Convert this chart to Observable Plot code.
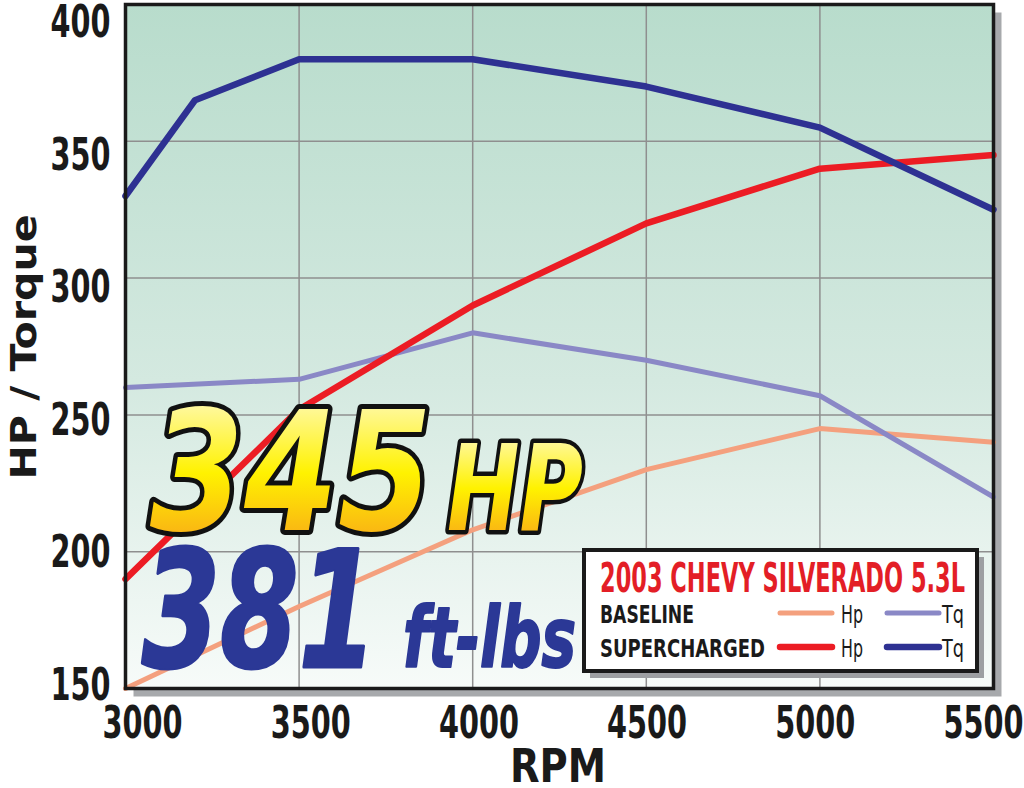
<!DOCTYPE html>
<html><head><meta charset="utf-8">
<script src="https://cdn.jsdelivr.net/npm/d3@7"></script>
<script src="https://cdn.jsdelivr.net/npm/@observablehq/plot@0.6"></script>
<style>body{margin:0;background:#fff}</style>
</head><body><div id="chart"></div>
<script>
// ---- data ----
const rpmBase = [3000, 3500, 4000, 4500, 5000, 5500];
const baselineHp = [150, 180, 208, 230, 245, 240];
const baselineTq = [260, 263, 280, 270, 257, 220];
const rpmSuperHp = [3000, 3500, 4000, 4500, 5000, 5500];
const superchargedHp = [190, 252, 290, 320, 340, 345];
const rpmSuperTq = [3000, 3200, 3500, 4000, 4500, 5000, 5500];
const superchargedTq = [330, 365, 380, 380, 370, 355, 325];
const xTicks = [3000, 3500, 4000, 4500, 5000, 5500];
const yTicks = [150, 200, 250, 300, 350, 400];
const seriesNames = ["Baseline Hp", "Baseline Tq", "Supercharged Hp", "Supercharged Tq"];
const seriesColors = ["#f4a07e", "#8a88c6", "#ec1c24", "#2e3192"];
const seriesWidths = [5, 5, 6.5, 6.5];
const legendTitle = "2003 CHEVY SILVERADO 5.3L";
const legendRows = ["BASELINE", "SUPERCHARGED"];
const legendKeys = ["Hp", "Tq"];
const headlineHp = ["345", "HP"];
const headlineTq = ["381", "ft-lbs"];

const mk = (xs, ys, s) => xs.map((x, i) => ({rpm: x, value: ys[i], series: s}));
const lines = [
  mk(rpmBase, baselineHp, seriesNames[0]),
  mk(rpmBase, baselineTq, seriesNames[1]),
  mk(rpmSuperHp, superchargedHp, seriesNames[2]),
  mk(rpmSuperTq, superchargedTq, seriesNames[3])
];

const FONT = "'DejaVu Sans Condensed', 'DejaVu Sans', sans-serif";

const plot = Plot.plot({
  width: 1024, height: 788,
  marginLeft: 125, marginRight: 31, marginTop: 4, marginBottom: 100,
  style: {fontFamily: FONT, background: "white", overflow: "visible"},
  x: {domain: [3000, 5500]},
  y: {domain: [150, 400]},
  marks: [
    Plot.frame({fill: "#a7a9ac", dx: 8, dy: 8}),
    Plot.frame({fill: "url(#bgGrad)"}),
    Plot.gridX([3500, 4000, 4500, 5000], {stroke: "#8f8f8f", strokeOpacity: 1, strokeWidth: 1.5}),
    Plot.gridY([200, 250, 300, 350], {stroke: "#8f8f8f", strokeOpacity: 1, strokeWidth: 1.5}),
    ...lines.map((d, i) => Plot.line(d, {x: "rpm", y: "value", stroke: seriesColors[i], strokeWidth: seriesWidths[i], strokeLinejoin: "round"})),
    Plot.axisY(yTicks, {tickSize: 0, tickPadding: 15, fontSize: 44, fontWeight: "bold", label: null, fill: "#1a1a1a", tickFormat: d => String(d)}),
    Plot.axisX(xTicks, {tickSize: 0, tickPadding: 18, fontSize: 44, fontWeight: "bold", label: null, fill: "#1a1a1a", tickFormat: d => String(d)}),
    Plot.frame({stroke: "#1a1a1a", strokeWidth: 3.5})
  ]
});
document.getElementById("chart").appendChild(plot);

const svg = d3.select(plot);
const defs = svg.insert("defs", ":first-child");
const bg = defs.append("linearGradient").attr("id", "bgGrad").attr("x1", 0).attr("y1", 0).attr("x2", 0).attr("y2", 1);
bg.append("stop").attr("offset", "0%").attr("stop-color", "#b8dccc");
bg.append("stop").attr("offset", "55%").attr("stop-color", "#d4e9e0");
bg.append("stop").attr("offset", "100%").attr("stop-color", "#f7fbf9");
const yel = defs.append("linearGradient").attr("id", "yel").attr("x1", 0).attr("y1", 0).attr("x2", 0).attr("y2", 1);
yel.append("stop").attr("offset", "0%").attr("stop-color", "#fffbe0");
yel.append("stop").attr("offset", "50%").attr("stop-color", "#fff200");
yel.append("stop").attr("offset", "100%").attr("stop-color", "#f7931e");

// condense tick labels and nudge them as in the reference layout
const sx = plot.scale("x"), sy = plot.scale("y");
svg.selectAll("g[aria-label='y-axis tick label'] text").each(function() {
  const t = d3.select(this);
  t.attr("textLength", t.text().length * 20).attr("lengthAdjust", "spacingAndGlyphs");
  const v = +t.text();
  const target = 21 + (400 - v) / 50 * 132.6;
  t.attr("dy", null).attr("y", target - sy.apply(v)).attr("dominant-baseline", "central");
});
svg.selectAll("g[aria-label='x-axis tick label'] text").each(function() {
  const t = d3.select(this);
  t.attr("textLength", t.text().length * 20).attr("lengthAdjust", "spacingAndGlyphs");
  const v = +t.text();
  const target = 142 + (v - 3000) / 500 * 168.2;
  t.attr("x", target - sx.apply(v));
});

function txt(x, y, s, o) {
  const t = svg.append("text").attr("x", x).attr("y", y).text(s)
    .attr("font-family", FONT).attr("font-size", o.size).attr("font-weight", o.weight || "bold")
    .attr("font-style", o.style || "normal").attr("fill", o.fill || "#1a1a1a")
    .attr("text-anchor", o.anchor || "start");
  if (o.len) t.attr("textLength", o.len).attr("lengthAdjust", "spacingAndGlyphs");
  if (o.stroke) t.attr("stroke", o.stroke).attr("stroke-width", o.sw).attr("stroke-linejoin", "round").attr("paint-order", "stroke fill");
  if (o.transform) t.attr("transform", o.transform);
  return t;
}

// axis titles
txt(558, 782, "RPM", {size: 46, len: 96, anchor: "middle"});
txt(0, 0, "HP / Torque", {size: 36, len: 265, anchor: "middle", transform: "translate(36,347) rotate(-90)"});

// headline callouts
txt(150, 530, headlineHp[0], {size: 165, len: 282, style: "italic", fill: "url(#yel)", stroke: "#111", sw: 10});
txt(447, 530, headlineHp[1], {size: 120, len: 136, style: "italic", fill: "url(#yel)", stroke: "#111", sw: 9});
txt(142, 667, headlineTq[0], {size: 163, len: 235, style: "italic", fill: "#2b3896", stroke: "#2b3896", sw: 3});
txt(403, 667, headlineTq[1], {size: 84, len: 173, style: "italic", fill: "#2b3896", stroke: "#2b3896", sw: 2});

// legend box
svg.append("rect").attr("x", 590).attr("y", 557).attr("width", 394).attr("height", 121).attr("fill", "#9d9fa2");
svg.append("rect").attr("x", 584).attr("y", 550).attr("width", 393).attr("height", 121).attr("fill", "white").attr("stroke", "#1a1a1a").attr("stroke-width", 4);
txt(600, 592, legendTitle, {size: 40, len: 365, fill: "#e31e26"});
const rowY = [613, 647];
legendRows.forEach((r, i) => {
  txt(600, rowY[i] + 10, r, {size: 25, len: i === 0 ? 94 : 165});
  [0, 1].forEach(k => {
    const x0 = k === 0 ? 780 : 887;
    const ci = i * 2 + k;
    svg.append("line").attr("x1", x0).attr("x2", x0 + 52).attr("y1", rowY[i]).attr("y2", rowY[i])
      .attr("stroke", seriesColors[ci]).attr("stroke-width", seriesWidths[ci]).attr("stroke-linecap", "round");
    txt(k === 0 ? 841 : 942, rowY[i] + 10, legendKeys[k], {size: 25, weight: "normal", len: 22});
  });
});
</script>
</body></html>
